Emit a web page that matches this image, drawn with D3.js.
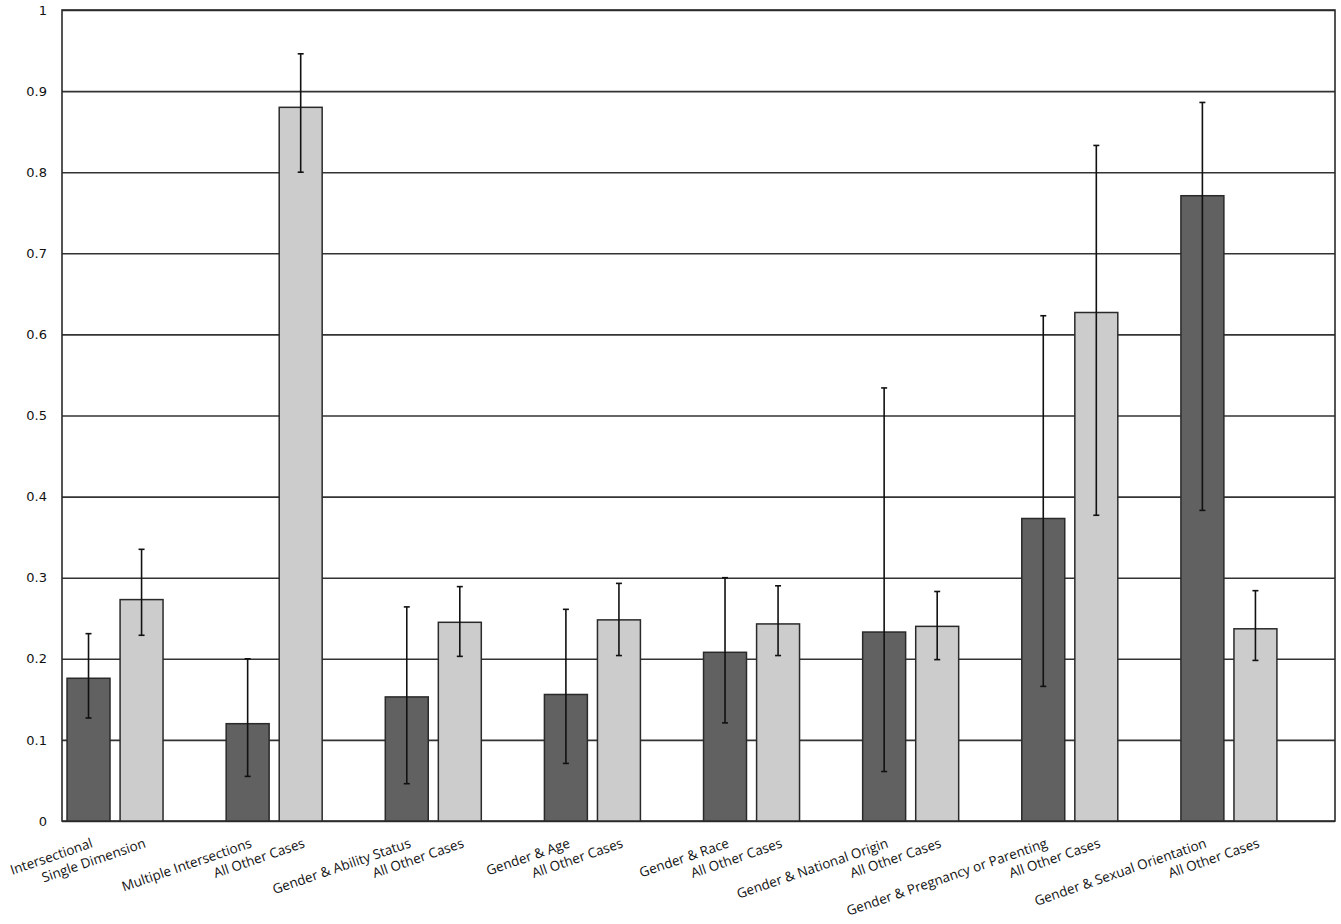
<!DOCTYPE html>
<html>
<head>
<meta charset="utf-8">
<script src="https://cdn.jsdelivr.net/npm/d3@7"></script>
<style>
  body { margin: 0; background: #fff; }
</style>
</head>
<body>
<svg id="chart" width="1341" height="924"></svg>
<script>
// dark bars: the intersectional subgroup, light bars: the comparison group
const subgroupLabels = ['Intersectional', 'Multiple Intersections', 'Gender & Ability Status', 'Gender & Age',
    'Gender & Race', 'Gender & National Origin', 'Gender & Pregnancy or Parenting', 'Gender & Sexual Orientation'];
const comparisonLabels = ['Single Dimension', 'All Other Cases', 'All Other Cases', 'All Other Cases',
    'All Other Cases', 'All Other Cases', 'All Other Cases', 'All Other Cases'];

const subgroupValues = [0.176, 0.120, 0.153, 0.156, 0.208, 0.233, 0.373, 0.771];
const subgroupLow    = [0.127, 0.055, 0.046, 0.071, 0.121, 0.061, 0.166, 0.383];
const subgroupHigh   = [0.231, 0.200, 0.264, 0.261, 0.300, 0.534, 0.623, 0.886];

const comparisonValues = [0.273, 0.880, 0.245, 0.248, 0.243, 0.240, 0.627, 0.237];
const comparisonLow    = [0.229, 0.800, 0.203, 0.204, 0.204, 0.199, 0.377, 0.198];
const comparisonHigh   = [0.335, 0.946, 0.289, 0.293, 0.290, 0.283, 0.833, 0.284];

const yTicks = [0, 0.1, 0.2, 0.3, 0.4, 0.5, 0.6, 0.7, 0.8, 0.9, 1];

const svg = d3.select('#chart');
const width = +svg.attr('width');
const height = +svg.attr('height');
const margin = {top: 10, right: 6, bottom: 103, left: 62};
const innerWidth = width - margin.left - margin.right;
const innerHeight = height - margin.top - margin.bottom;

const colors = {sub: '#616161', comp: '#cccccc'};

// one row per bar, built from the arrays above
const rows = [];
subgroupLabels.forEach((label, i) => {
    rows.push({group: i, key: 'sub', label: label, value: subgroupValues[i], low: subgroupLow[i], high: subgroupHigh[i]});
    rows.push({group: i, key: 'comp', label: comparisonLabels[i], value: comparisonValues[i], low: comparisonLow[i], high: comparisonHigh[i]});
});

const x0 = d3.scaleBand()
    .domain(d3.range(subgroupLabels.length))
    .range([0, innerWidth])
    .padding(0);
// third slot is left empty, it makes the gap between pairs
const x1 = d3.scaleBand()
    .domain(['sub', 'comp', 'gap'])
    .range([0, x0.bandwidth()])
    .paddingInner(0.19)
    .paddingOuter(0.095);
const yScale = d3.scaleLinear()
    .domain([0, 1])
    .range([innerHeight, 0]);

const g = svg.append('g')
    .attr('transform', `translate(${margin.left}, ${margin.top})`);

// grid + y labels
const yAxis = d3.axisLeft(yScale)
    .tickValues(yTicks)
    .tickSize(-innerWidth)
    .tickPadding(15)
    .tickFormat(d3.format('~g'));
const yAxisGroup = g.append('g').call(yAxis);
yAxisGroup.select('.domain').remove();
yAxisGroup.selectAll('line')
    .attr('stroke', '#333')
    .attr('stroke-width', 1.6);
yAxisGroup.selectAll('text')
    .attr('font-family', 'DejaVu Sans, Verdana, sans-serif')
    .attr('font-size', 13)
    .attr('fill', '#111');

// frame around the plot
g.append('rect')
    .attr('x', 0)
    .attr('y', 0)
    .attr('width', innerWidth)
    .attr('height', innerHeight)
    .attr('fill', 'none')
    .attr('stroke', '#2a2a2a')
    .attr('stroke-width', 1.6);

const barX = d => x0(d.group) + x1(d.key);
const barCx = d => barX(d) + x1.bandwidth() / 2;

g.selectAll('.bar')
    .data(rows)
    .join('rect')
    .attr('class', 'bar')
    .attr('x', barX)
    .attr('y', d => yScale(d.value))
    .attr('width', x1.bandwidth())
    .attr('height', d => innerHeight - yScale(d.value))
    .attr('fill', d => colors[d.key])
    .attr('stroke', '#2a2a2a')
    .attr('stroke-width', 1.5);

// error bars
const capW = 6;
const err = g.selectAll('.err')
    .data(rows)
    .join('g')
    .attr('class', 'err')
    .attr('stroke', '#111')
    .attr('stroke-width', 1.6);
err.append('line')
    .attr('x1', barCx).attr('x2', barCx)
    .attr('y1', d => yScale(d.low)).attr('y2', d => yScale(d.high));
err.append('line')
    .attr('x1', d => barCx(d) - capW / 2).attr('x2', d => barCx(d) + capW / 2)
    .attr('y1', d => yScale(d.high)).attr('y2', d => yScale(d.high));
err.append('line')
    .attr('x1', d => barCx(d) - capW / 2).attr('x2', d => barCx(d) + capW / 2)
    .attr('y1', d => yScale(d.low)).attr('y2', d => yScale(d.low));

// rotated category labels, ending under each bar
g.selectAll('.xlabel')
    .data(rows)
    .join('text')
    .attr('class', 'xlabel')
    .attr('transform', d => `translate(${barCx(d) + 5}, ${innerHeight + 26}) rotate(-19)`)
    .attr('text-anchor', 'end')
    .attr('font-family', 'Open Sans, Noto Sans, sans-serif')
    .attr('font-size', 13.5)
    .attr('fill', '#111')
    .text(d => d.label);
</script>
</body>
</html>
